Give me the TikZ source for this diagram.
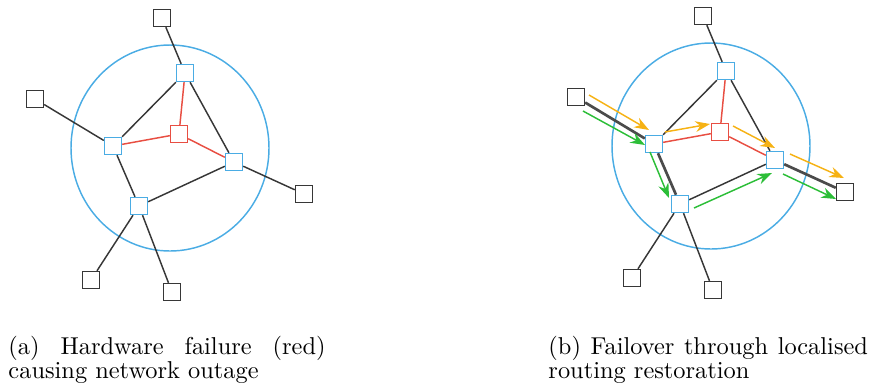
\documentclass[tikz,border=0pt]{standalone}
\usetikzlibrary{arrows.meta}
\definecolor{cblue}{RGB}{74,172,228}
\definecolor{cred}{RGB}{232,78,66}
\definecolor{corange}{RGB}{246,178,20}
\definecolor{cgreen}{RGB}{44,190,56}
\definecolor{cdark}{RGB}{55,55,55}
\tikzset{
  outbox/.style={draw=cdark, fill=white, line width=0.55pt, minimum size=7pt, inner sep=0pt},
  corebox/.style={draw=cblue, fill=white, line width=0.55pt, minimum size=7pt, inner sep=0pt},
  failbox/.style={draw=cred, fill=white, line width=0.55pt, minimum size=7pt, inner sep=0pt},
  link/.style={draw=cdark, line width=0.6pt},
  thicklink/.style={draw=cdark!90, line width=1.1pt},
  faillink/.style={draw=cred, line width=0.6pt},
  ring/.style={draw=cblue, line width=0.6pt},
  oarrow/.style={draw=corange, line width=0.6pt, -{Stealth[length=6pt,width=4.4pt]}},
  garrow/.style={draw=cgreen, line width=0.6pt, -{Stealth[length=6pt,width=4.4pt]}},
  captext/.style={anchor=base west, inner sep=0pt, font=\fontsize{10pt}{9.85pt}\selectfont}
}
\begin{document}
\begin{tikzpicture}[x=0.41pt, y=-0.41pt]
\useasboundingbox (0,0) rectangle (871,388);
% ---------------- (a)
\begin{scope}
  \draw[ring] (170,148) ellipse [x radius=99, y radius=103];
  \node[outbox] (aT) at (162,18) {};
  \node[outbox] (aL) at (35,99) {};
  \node[outbox] (aRo) at (304,194) {};
  \node[outbox] (aBL) at (91,280) {};
  \node[outbox] (aBo) at (172,292) {};
  \node[corebox] (aA) at (185,73) {};
  \node[corebox] (aB) at (113,146) {};
  \node[corebox] (aC) at (234,162) {};
  \node[corebox] (aD) at (139,206) {};
  \node[failbox] (aR) at (179,134) {};
  \draw[link] (aT) -- (aA);
  \draw[link] (aL) -- (aB);
  \draw[link] (aB) -- (aA);
  \draw[link] (aA) -- (aC);
  \draw[link] (aB) -- (aD);
  \draw[link] (aD) -- (aC);
  \draw[link] (aC) -- (aRo);
  \draw[link] (aD) -- (aBL);
  \draw[link] (aD) -- (aBo);
  \draw[faillink] (aA) -- (aR);
  \draw[faillink] (aB) -- (aR);
  \draw[faillink] (aR) -- (aC);
\end{scope}
% ---------------- (b)
\begin{scope}[shift={(541,-2)}]
  \draw[ring] (170,148) ellipse [x radius=99, y radius=103];
  \node[outbox] (bT) at (162,18) {};
  \node[outbox] (bL) at (35,99) {};
  \node[outbox] (bRo) at (304,194) {};
  \node[outbox] (bBL) at (91,280) {};
  \node[outbox] (bBo) at (172,292) {};
  \node[corebox] (bA) at (185,73) {};
  \node[corebox] (bB) at (113,146) {};
  \node[corebox] (bC) at (234,162) {};
  \node[corebox] (bD) at (139,206) {};
  \node[failbox] (bR) at (179,134) {};
  \draw[link] (bT) -- (bA);
  \draw[thicklink] (bL) -- (bB);
  \draw[link] (bB) -- (bA);
  \draw[link] (bA) -- (bC);
  \draw[thicklink] (bB) -- (bD);
  \draw[link] (bD) -- (bC);
  \draw[thicklink] (bC) -- (bRo);
  \draw[link] (bD) -- (bBL);
  \draw[link] (bD) -- (bBo);
  \draw[faillink] (bA) -- (bR);
  \draw[faillink] (bB) -- (bR);
  \draw[faillink] (bR) -- (bC);
  % orange path
  \coordinate (o1s) at (48,97);   \coordinate (o1e) at (108,132);
  \coordinate (o2s) at (124,134); \coordinate (o2e) at (169,126);
  \coordinate (o3s) at (192,128); \coordinate (o3e) at (234,150);
  \coordinate (o4s) at (249,156); \coordinate (o4e) at (303,180);
  \draw[oarrow] (o1s) -- (o1e);
  \draw[oarrow] (o2s) -- (o2e);
  \draw[oarrow] (o3s) -- (o3e);
  \draw[oarrow] (o4s) -- (o4e);
  % green path
  \coordinate (g1s) at (42,113);  \coordinate (g1e) at (104,147);
  \coordinate (g2s) at (109,154); \coordinate (g2e) at (128,200);
  \coordinate (g3s) at (153,210); \coordinate (g3e) at (231,175);
  \coordinate (g4s) at (242,176); \coordinate (g4e) at (295,201);
  \draw[garrow] (g1s) -- (g1e);
  \draw[garrow] (g2s) -- (g2e);
  \draw[garrow] (g3s) -- (g3e);
  \draw[garrow] (g4s) -- (g4e);
\end{scope}
% ---------------- captions
\node[captext] (capa) at (8,354) {\parbox[t]{130pt}{(a) Hardware failure (red) causing network outage}};
\node[captext] (capb) at (548,354) {\parbox[t]{131pt}{(b) Failover through localised routing restoration}};
\end{tikzpicture}
\end{document}
